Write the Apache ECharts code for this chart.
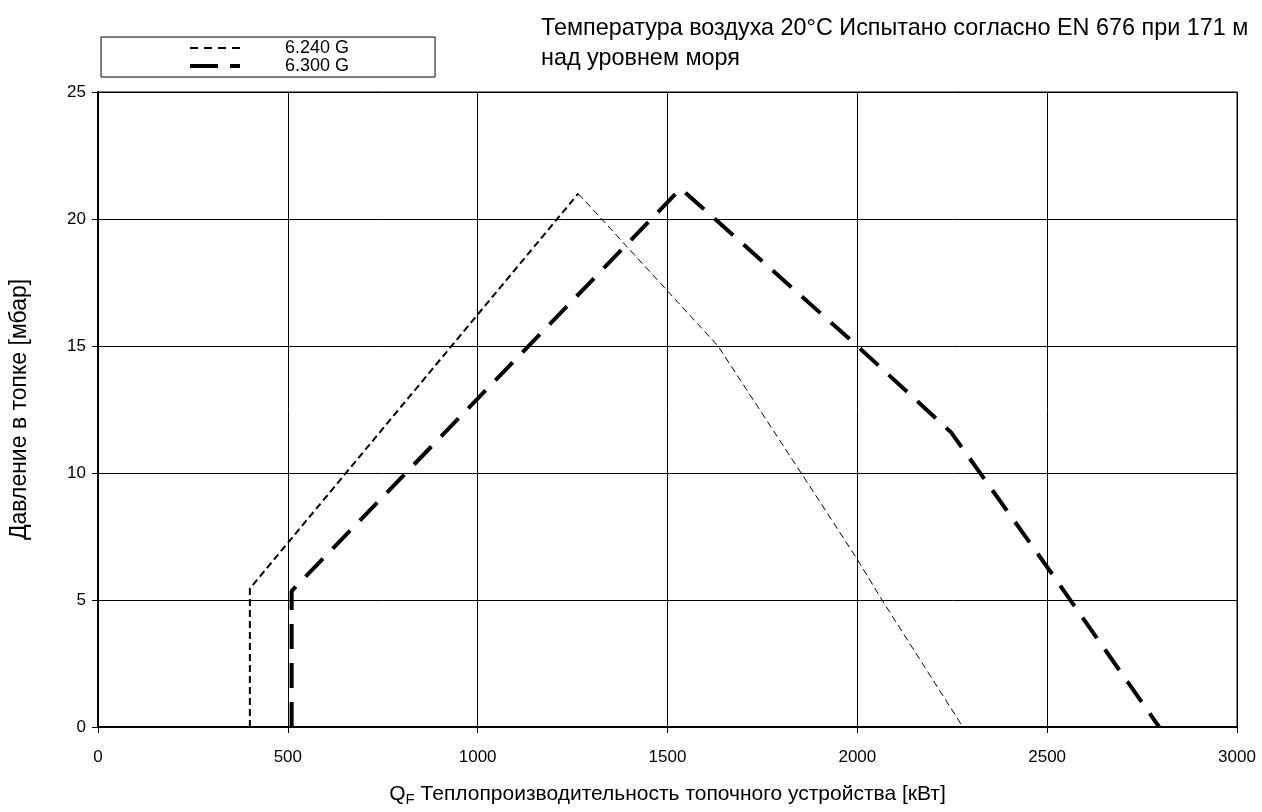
<!DOCTYPE html>
<html>
<head>
<meta charset="utf-8">
<script src="https://cdn.jsdelivr.net/npm/echarts@6/dist/echarts.min.js"></script>
<style>
html,body{margin:0;padding:0;background:#fff;}
#chart{width:1262px;height:812px;}
</style>
</head>
<body>
<div id="chart"></div>
<script>
// Series names
const seriesNames = ['6.240 G', '6.300 G'];
// 6.240 G: rising part and falling part [QF kW, pressure mbar]
const s1Rise = [[400, 0], [400, 5.45], [1265, 21]];
const s1Fall = [[1265, 21], [1633, 15], [1852, 10], [2000, 6.6], [2065, 5], [2278, 0]];
// 6.300 G
const s2 = [[510, 0], [510, 5.35], [1535, 21.2], [2000, 15], [2247, 11.6], [2500, 6.3], [2795, 0]];

const titleText = 'Температура воздуха 20°C Испытано согласно EN 676 при 171 м\nнад уровнем моря';
const xName = 'Q{sub|F} Теплопроизводительность топочного устройства [кВт]';
const yName = 'Давление в топке [мбар]';

const FONT = 'Liberation Sans, Arial, sans-serif';
const hiddenSymbol = {color: 'rgba(0,0,0,0)', borderWidth: 0, opacity: 0};
const chart = echarts.init(document.getElementById('chart'), null, {renderer: 'canvas'});
chart.setOption({
  backgroundColor: '#fff',
  animation: false,
  title: {
    text: titleText,
    left: 536,
    top: 9,
    textStyle: {fontFamily: FONT, fontSize: 23.4, fontWeight: 'normal', color: '#000', lineHeight: 30}
  },
  legend: {
    left: 101,
    top: 37,
    orient: 'vertical',
    itemGap: 0,
    itemWidth: 50,
    itemHeight: 18,
    padding: [2, 86, 2, 87],
    borderColor: '#000',
    borderWidth: 1,
    borderRadius: 0,
    textStyle: {fontFamily: FONT, fontSize: 18, color: '#000', padding: [0, 0, 0, 40], lineHeight: 18},
    data: [
      {name: seriesNames[0], itemStyle: hiddenSymbol, lineStyle: {type: [8, 6], width: 2, color: '#000'}},
      {name: seriesNames[1], itemStyle: hiddenSymbol, lineStyle: {type: [28, 12], width: 4, color: '#000'}}
    ]
  },
  grid: {
    left: 98, right: 25, top: 92, bottom: 84,
    show: true, borderColor: '#000', borderWidth: 1
  },
  xAxis: {
    type: 'value', min: 0, max: 3000, interval: 500,
    name: xName,
    nameLocation: 'middle',
    nameGap: 54,
    nameTextStyle: {
      fontFamily: FONT, fontSize: 21, color: '#000',
      rich: {sub: {fontFamily: FONT, fontSize: 15, color: '#000', padding: [11, 0, 0, 0]}}
    },
    axisLine: {show: true, onZero: false, lineStyle: {color: '#000', width: 2}},
    axisTick: {show: true, inside: false, length: 6, lineStyle: {color: '#000', width: 1}},
    axisLabel: {fontFamily: FONT, fontSize: 17, color: '#000', margin: 22, formatter: function (v) { return String(v); }},
    splitLine: {show: true, lineStyle: {color: '#000', width: 1}}
  },
  yAxis: {
    type: 'value', min: 0, max: 25, interval: 5,
    name: yName,
    nameLocation: 'middle',
    nameGap: 67,
    nameRotate: 90,
    nameTextStyle: {fontFamily: FONT, fontSize: 23, color: '#000'},
    axisLine: {show: true, lineStyle: {color: '#000', width: 2}},
    axisTick: {show: true, inside: false, length: 6, lineStyle: {color: '#000', width: 1}},
    axisLabel: {fontFamily: FONT, fontSize: 17, color: '#000', margin: 12, formatter: function (v) { return String(v); }},
    splitLine: {show: true, lineStyle: {color: '#000', width: 1}}
  },
  series: [
    {
      name: seriesNames[0], type: 'line', data: s1Rise, symbol: 'none',
      lineStyle: {color: '#000', width: 2, type: [7, 4]}, itemStyle: {color: '#000'}, z: 3
    },
    {
      name: seriesNames[0] + ' (спад)', type: 'line', data: s1Fall, symbol: 'none',
      lineStyle: {color: '#000', width: 1, type: [7, 4]}, itemStyle: {color: '#000'}, z: 3
    },
    {
      name: seriesNames[1], type: 'line', data: s2, symbol: 'none',
      lineStyle: {color: '#000', width: 4, type: [25, 14]}, itemStyle: {color: '#000'}, z: 4
    }
  ]
});
</script>
</body>
</html>
